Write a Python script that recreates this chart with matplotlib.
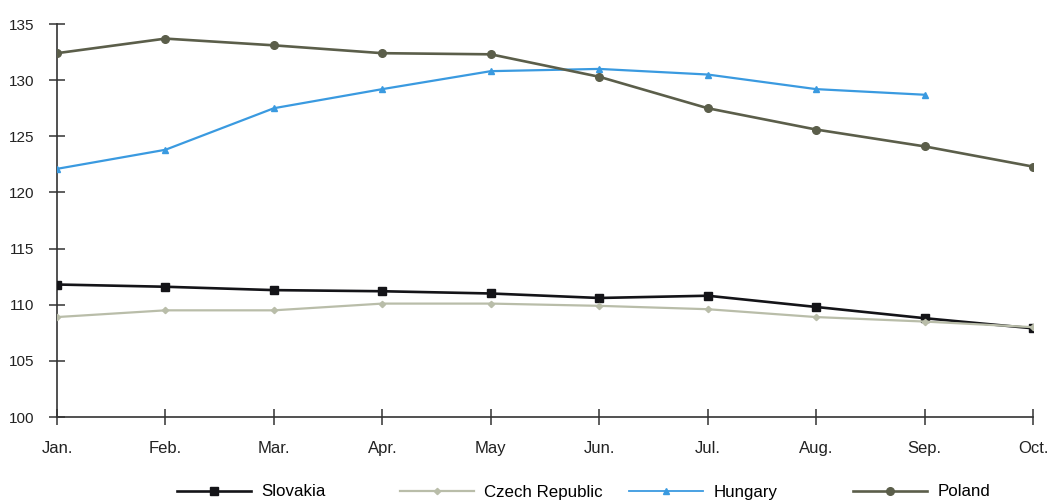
import matplotlib
matplotlib.use("Agg")
import matplotlib.pyplot as plt
from matplotlib.lines import Line2D

plt.rcParams['font.family'] = ['Liberation Sans', 'DejaVu Sans']

months = ["Jan.", "Feb.", "Mar.", "Apr.", "May", "Jun.", "Jul.", "Aug.", "Sep.", "Oct."]
slovakia = [111.8, 111.6, 111.3, 111.2, 111.0, 110.6, 110.8, 109.8, 108.8, 107.9]
czech = [108.9, 109.5, 109.5, 110.1, 110.1, 109.9, 109.6, 108.9, 108.5, 108.0]
hungary = [122.1, 123.8, 127.5, 129.2, 130.8, 131.0, 130.5, 129.2, 128.7]
poland = [132.4, 133.7, 133.1, 132.4, 132.3, 130.3, 127.5, 125.6, 124.1, 122.3]
yticks = [100, 105, 110, 115, 120, 125, 130, 135]

c_sk = "#141418"
c_cz = "#b9bda9"
c_hu = "#3a9ae0"
c_pl = "#5b5e4a"

fig = plt.figure(figsize=(10.57, 5.01), dpi=100)
ax = fig.add_axes([57 / 1057, 84 / 501, 976 / 1057, 393 / 501])

x_all = list(range(len(months)))
ax.plot(x_all, slovakia, color=c_sk, lw=1.9, marker="s", ms=5.5, zorder=3)
ax.plot(x_all, czech, color=c_cz, lw=1.6, marker="D", ms=3.2, zorder=4)
ax.plot(x_all[:len(hungary)], hungary, color=c_hu, lw=1.6, marker="^", ms=4.5, zorder=3)
ax.plot(x_all, poland, color=c_pl, lw=1.9, marker="o", ms=5.5, zorder=3)

ax.set_xlim(0, 9)
ax.set_ylim(100, 135)
ax.set_xticks(x_all)
ax.set_xticklabels(months)
ax.set_yticks(yticks)
for s in ("top", "right"):
    ax.spines[s].set_visible(False)
for s in ("left", "bottom"):
    ax.spines[s].set_color("#333333")
    ax.spines[s].set_linewidth(1.2)
ax.spines["left"].set_bounds(100, 135)
ax.tick_params(axis="both", direction="inout", length=11, width=1.1, color="#333333",
               labelcolor="#222222")
ax.tick_params(axis="x", pad=12, labelsize=12)
ax.tick_params(axis="y", pad=11, labelsize=11)

entries = [
    ("Slovakia", c_sk, "s", 5.5, 1.9, 181),
    ("Czech Republic", c_cz, "D", 3.2, 1.6, 404),
    ("Hungary", c_hu, "^", 4.5, 1.3, 633),
    ("Poland", c_pl, "o", 5.5, 1.9, 857),
]
for label, col, mk, ms, lw, xpx in entries:
    h = Line2D([], [], color=col, marker=mk, ms=ms, lw=lw)
    fig.legend([h], [label], loc="center left",
               bbox_to_anchor=(xpx / 1057 - 0.004, 1 - 492 / 501),
               frameon=False, fontsize=12.2, handlelength=4.4, handletextpad=0.6,
               borderpad=0, borderaxespad=0)

fig.savefig("out.png", dpi=100)
